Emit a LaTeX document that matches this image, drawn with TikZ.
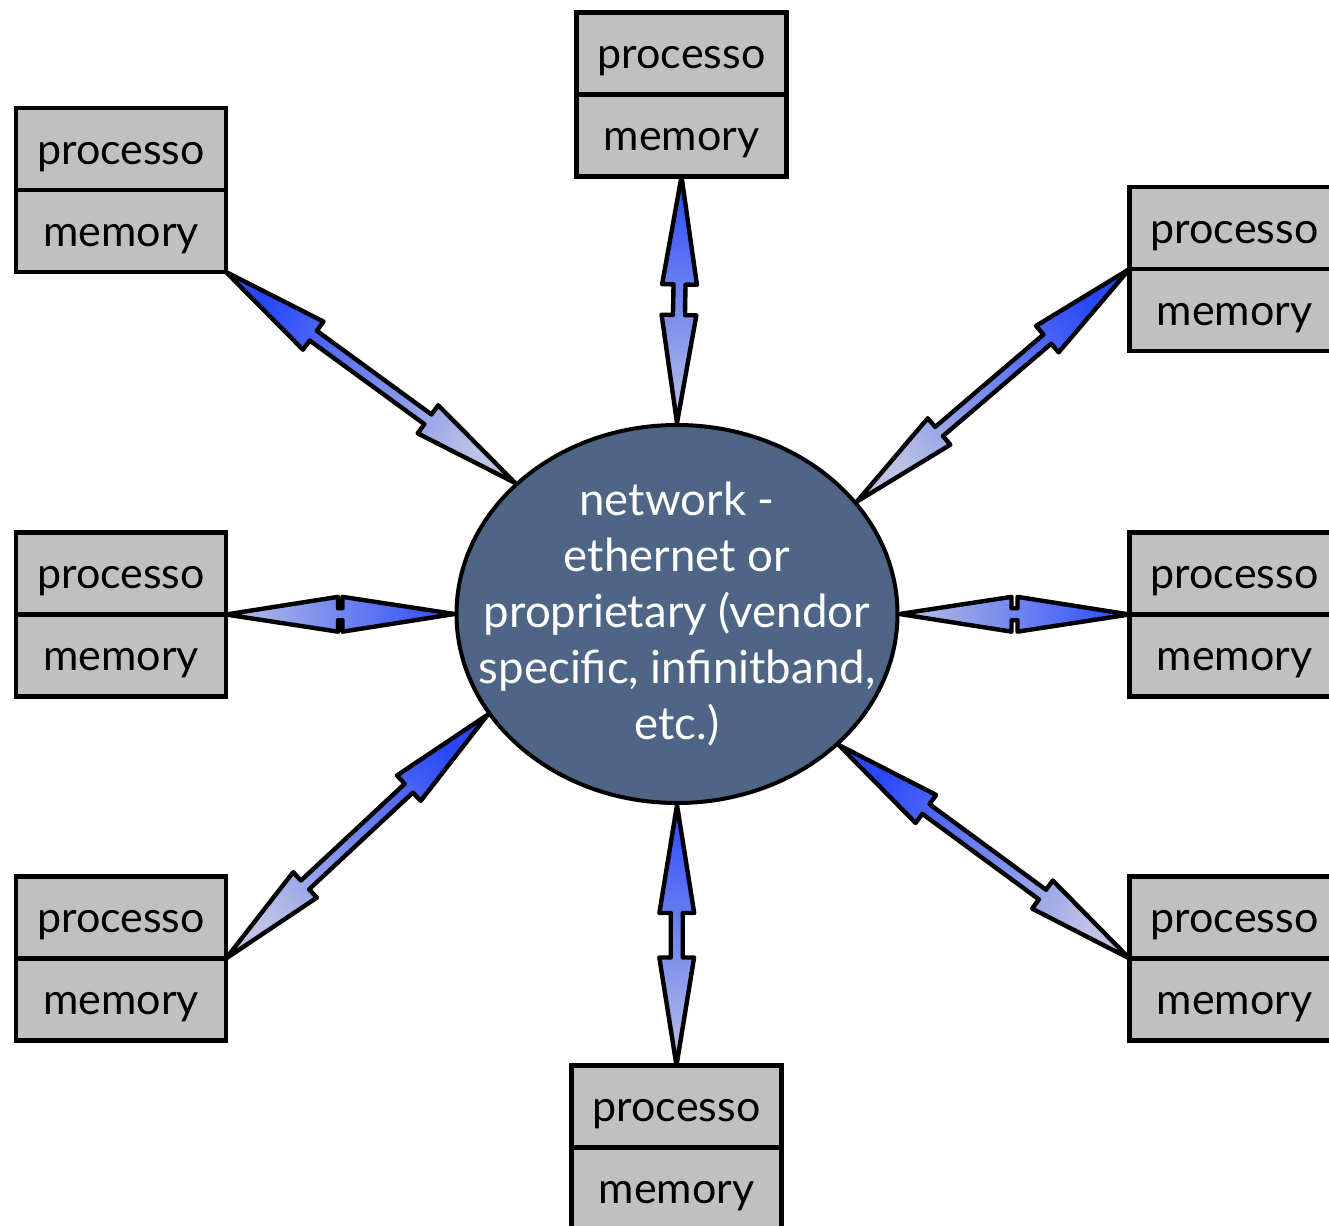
\documentclass[tikz,border=0pt]{standalone}
\usepackage{fontspec}
\setmainfont{Lato}
\usetikzlibrary{calc,shapes.geometric}

\definecolor{boxgray}{RGB}{192,192,192}
\definecolor{netblue}{RGB}{79,101,133}
\definecolor{arrdark}{RGB}{40,72,250}
\definecolor{arrlight}{RGB}{188,195,228}

\tikzset{
  cell/.style={draw, line width=2.2pt, fill=boxgray, minimum width=105pt,
    minimum height=41pt, inner sep=0pt, outer sep=0pt,
    text height=16pt, text depth=1pt,
    font=\fontsize{21.5}{24}\selectfont},
  arrowbody/.style={draw=black, line width=2.2pt, line join=round,
    top color=arrdark, bottom color=arrlight},
}

% fat double-headed arrow between two points: #1, #2 ends, #3 shading angle, #4 head length
\newcommand\duplexarrow[4]{%
  \coordinate (ha) at ($(#1)!#4!(#2)$);
  \coordinate (hb) at ($(#2)!#4!(#1)$);
  \shade[arrowbody, shading angle=#3]
    (#1) -- ($(ha)!8.7pt!90:(#2)$) -- ($(ha)!3pt!90:(#2)$)
    -- ($(hb)!3pt!-90:(#1)$) -- ($(hb)!8.7pt!-90:(#1)$) -- (#2)
    -- ($(hb)!8.7pt!90:(#1)$) -- ($(hb)!3pt!90:(#1)$)
    -- ($(ha)!3pt!-90:(#2)$) -- ($(ha)!8.7pt!-90:(#2)$) -- cycle;
}

% processor / memory pair: #1 name prefix, #2 centre of the processor cell
\newcommand\nodepair[2]{%
  \node[cell] (#1-p) at (#2) {processo};
  \node[cell, anchor=north] (#1-m) at (#1-p.south) {memory};
}

\begin{document}
\begin{tikzpicture}[x=0.5pt, y=-0.5pt]
  \useasboundingbox (0,0) rectangle (1329,1226);
  \clip (0,0) rectangle (1329,1226);

  % central interconnect
  \node[ellipse, draw, line width=2pt, fill=netblue, minimum width=220.5pt,
    minimum height=189pt, inner sep=0pt] (net) at (677,614) {};
  \node[text=white, align=center, inner sep=0pt,
    font=\fontsize{22.8}{28}\selectfont] (nettext) at (net.center)
    {network -\\ethernet or\\proprietary (vendor\\specific, infinitband,\\etc.)};

  % compute nodes
  \nodepair{t}{681.5,53.5}
  \nodepair{tl}{121,149}
  \nodepair{tr}{1234.5,228}
  \nodepair{ml}{121,573.5}
  \nodepair{mr}{1234.5,573.5}
  \nodepair{bl}{121,917.5}
  \nodepair{br}{1234.5,917.5}
  \nodepair{b}{676.5,1106.5}

  % links
  \duplexarrow{t-m.south}{net.north}{0}{54pt}
  \duplexarrow{tl-m.south east}{net.141}{54.5}{54pt}
  \duplexarrow{tr-p.south west}{net.32}{-49.6}{54pt}
  \duplexarrow{ml-p.south east}{net.west}{-90}{56pt}
  \duplexarrow{net.east}{mr-p.south west}{-90}{56pt}
  \duplexarrow{bl-p.south east}{net.208}{-46.8}{54pt}
  \duplexarrow{net.321.4}{br-p.south west}{54.4}{54pt}
  \duplexarrow{net.south}{b-p.north}{0}{54pt}
\end{tikzpicture}
\end{document}
